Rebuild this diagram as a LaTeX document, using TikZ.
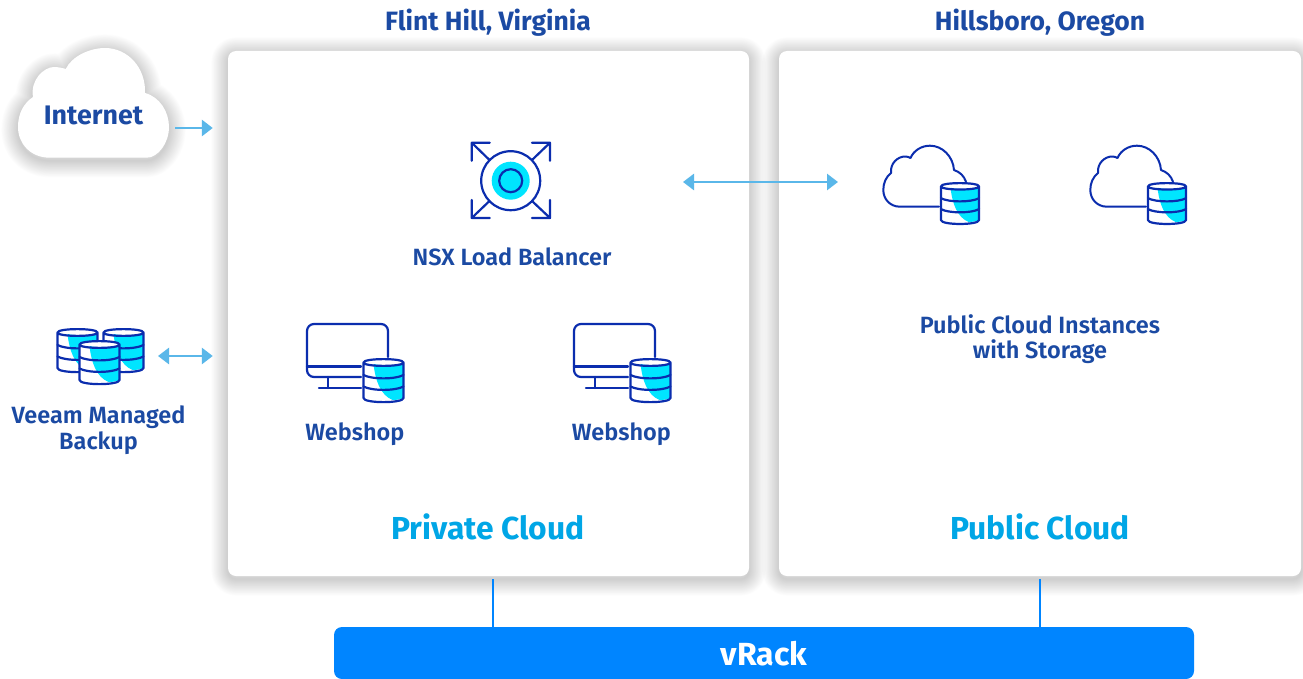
\documentclass[tikz,border=0pt]{standalone}
\usepackage{fontspec}
\setmainfont{Fira Sans SemiBold}
\newfontfamily\heavy{Fira Sans Bold}
\usetikzlibrary{arrows.meta}
\definecolor{ink}{HTML}{0B2DAE}
\definecolor{cyanfill}{HTML}{00E5FF}
\definecolor{labelblue}{HTML}{1B4AA3}
\definecolor{titleblue}{HTML}{00A6E6}
\definecolor{flowblue}{HTML}{5AB7E9}
\definecolor{rackblue}{HTML}{0085FF}
\newcommand{\softshadow}[1]{%
  \foreach \i in {1,...,24}{\draw[black,opacity=.0095,line width=\i*1.4pt,line join=round,yshift=-3pt] #1;}}
\tikzset{
  x=1pt,y=-1pt,
  iconline/.style={draw=ink,line width=2.2pt,line cap=round,line join=round},
  label/.style={text=labelblue,font=\fontsize{23.5}{25.5}\selectfont,align=center,inner sep=0pt},
  title/.style={text=titleblue,font=\heavy\fontsize{31.8}{33}\selectfont,inner sep=0pt},
  panel/.style={fill=white,rounded corners=8pt,minimum width=522pt,minimum height=525pt,inner sep=0pt},
  flow/.style={draw=flowblue,line width=2.8pt,{Triangle[length=11pt,width=16pt]}-{Triangle[length=11pt,width=16pt]}},
  flowone/.style={draw=flowblue,line width=2.8pt,-{Triangle[length=11pt,width=16pt]}},
  tap/.style={draw=rackblue,line width=2.2pt},
  pics/dbstack/.style={code={
    \fill[white] (0,3) rectangle (40,40) (0,3) .. controls (0,-1) and (40,-1) .. (40,3) (0,40) .. controls (0,44) and (40,44) .. (40,40);
    \fill[cyanfill] (10,5) .. controls (12,22) and (17,36) .. (29,41) .. controls (34,41) and (38,40) .. (40,39) -- (40,4) .. controls (32,7) and (18,7) .. (10,5) -- cycle;
    \draw[iconline] (0,3.5) .. controls (0,-1) and (40,-1) .. (40,3.5) .. controls (40,8) and (0,8) .. (0,3.5)
      -- (0,39) .. controls (0,44.5) and (40,44.5) .. (40,39) -- (40,3.5);
    \draw[iconline] (0,16) .. controls (8,20.5) and (32,20.5) .. (40,16);
    \draw[iconline] (0,27.5) .. controls (8,32) and (32,32) .. (40,27.5);
  }},
  pics/monitor/.style={code={
    \draw[iconline,rounded corners=7pt] (82,34) -- (82,1) -- (1,1) -- (1,54) -- (55,54);
    \draw[iconline] (1,43.5) -- (55,43.5);
    \draw[iconline] (22,54) -- (22,65);
    \draw[iconline] (13,65) -- (55,65);
  }},
  pics/outlinecloud/.style={code={
    \draw[iconline,line width=2pt] (69,76.7) -- (30,76.7) .. controls (20,76.7) and (13.3,69) .. (13.3,60) .. controls (13.3,53) and (16,47) .. (21,43)
      .. controls (20,33) and (28,26.5) .. (35,26.5) .. controls (37,26.5) and (39,27) .. (40.5,28)
      .. controls (44,20) and (52,15.7) .. (60,15.7) .. controls (72,15.7) and (83,26) .. (84,40)
      .. controls (90,42) and (94,46) .. (96,51.7);
  }},
}
\begin{document}
\begin{tikzpicture}
\useasboundingbox (0,0) rectangle (1303,679);
\fill[white] (0,0) rectangle (1303,679);
% panel shadows
\softshadow{[rounded corners=8pt] (228,51) rectangle (749,576)}
\softshadow{[rounded corners=8pt] (779,51) rectangle (1301,576)}
\softshadow{(50,157.7) .. controls (30,157.7) and (18,143) .. (18,127) .. controls (18,113) and (24,103) .. (33,97) .. controls (30,80) and (44,67) .. (54,67) .. controls (58,67) and (63,68) .. (65.7,69) .. controls (72,56) and (90,48) .. (105,48) .. controls (128,48) and (146,68) .. (145,93) .. controls (160,97) and (169,112) .. (169,127) .. controls (169,143) and (158,157.7) .. (146.7,157.7) -- cycle}
% panels
\node[panel,minimum width=521pt] (privbox) at (488.5,313.5) {};
\node[panel] (pubbox) at (1040,313.5) {};
% internet cloud
\fill[white] (50,157.7) .. controls (30,157.7) and (18,143) .. (18,127) .. controls (18,113) and (24,103) .. (33,97) .. controls (30,80) and (44,67) .. (54,67) .. controls (58,67) and (63,68) .. (65.7,69) .. controls (72,56) and (90,48) .. (105,48) .. controls (128,48) and (146,68) .. (145,93) .. controls (160,97) and (169,112) .. (169,127) .. controls (169,143) and (158,157.7) .. (146.7,157.7) -- cycle;
\node[label,font=\heavy\fontsize{26.8}{28}\selectfont,minimum width=151pt,anchor=base] (internet) at (93.5,125) {Internet};
% vRack
\node[fill=rackblue,rounded corners=8pt,minimum width=860pt,minimum height=52pt,inner sep=0pt] (vrack) at (764,653) {};
\node[text=white,font=\heavy\fontsize{32}{34}\selectfont,inner sep=0pt,anchor=base] (vracklabel) at (764,665) {vRack};
% titles
\node[label,font=\heavy\fontsize{26.5}{27}\selectfont,anchor=base] (flint) at (488,31) {Flint Hill, Virginia};
\node[label,font=\heavy\fontsize{26.5}{27}\selectfont,anchor=base] (hills) at (1040,31) {Hillsboro, Oregon};
\node[title,anchor=base] (privlabel) at (488,539.5) {Private Cloud};
\node[title,anchor=base] (publabel) at (1040,539.5) {Public Cloud};
% load balancer icon
\fill[cyanfill] (510.7,180.7) circle[radius=19];
\draw[iconline] (510.7,180.7) circle[radius=29.5];
\draw[iconline] (510.7,180.7) circle[radius=11.5];
\draw[iconline] (471.7,160.7) -- (471.7,142.7) -- (489.7,142.7) (471.7,142.7) -- (489.5,160);
\draw[iconline] (550,160.7) -- (550,142.7) -- (532,142.7) (550,142.7) -- (532,160);
\draw[iconline] (471.7,200) -- (471.7,218) -- (489.7,218) (471.7,218) -- (489.5,201);
\draw[iconline] (550,200) -- (550,218) -- (532,218) (550,218) -- (532,201);
\node[label,anchor=base] (nsx) at (512,265) {NSX Load Balancer};
% webshops
\pic at (306,323) {monitor};
\pic at (363.5,359) {dbstack};
\pic at (573,323) {monitor};
\pic at (630.5,359) {dbstack};
\node[label,anchor=base] (shopa) at (354.8,440) {Webshop};
\node[label,anchor=base] (shopb) at (621.3,440) {Webshop};
% public instances
\pic at (870,130) {outlinecloud};
\pic[scale=.95] at (941,183) {dbstack};
\pic at (1077,130) {outlinecloud};
\pic[scale=.95] at (1148,183) {dbstack};
\node[label] (instances) at (1040,339) {Public Cloud Instances\\with Storage};
% backup
\pic at (57.5,329) {dbstack};
\pic at (103.5,329) {dbstack};
\pic at (79.5,341) {dbstack};
\node[label] (veeam) at (98.5,430) {Veeam Managed\\Backup};
% connectors
\coordinate (inetrow) at (0,128);
\coordinate (backuprow) at (0,356);
\coordinate (backupend) at (158,356);
\coordinate (lbend) at (683,182);
\coordinate (pubend) at (838,182);
\coordinate (tapa) at (493,627);
\coordinate (tapb) at (1040,627);
\draw[flowone,shorten >=15pt,shorten <=6pt] (internet.east |- inetrow) -- (privbox.west |- inetrow);
\draw[flow,shorten >=15pt] (backupend) -- (privbox.west |- backuprow);
\draw[flow] (lbend) -- (pubend);
\draw[tap,shorten <=3pt] (tapa |- privbox.south) -- (tapa);
\draw[tap,shorten <=3pt] (tapb |- pubbox.south) -- (tapb);
\end{tikzpicture}
\end{document}
